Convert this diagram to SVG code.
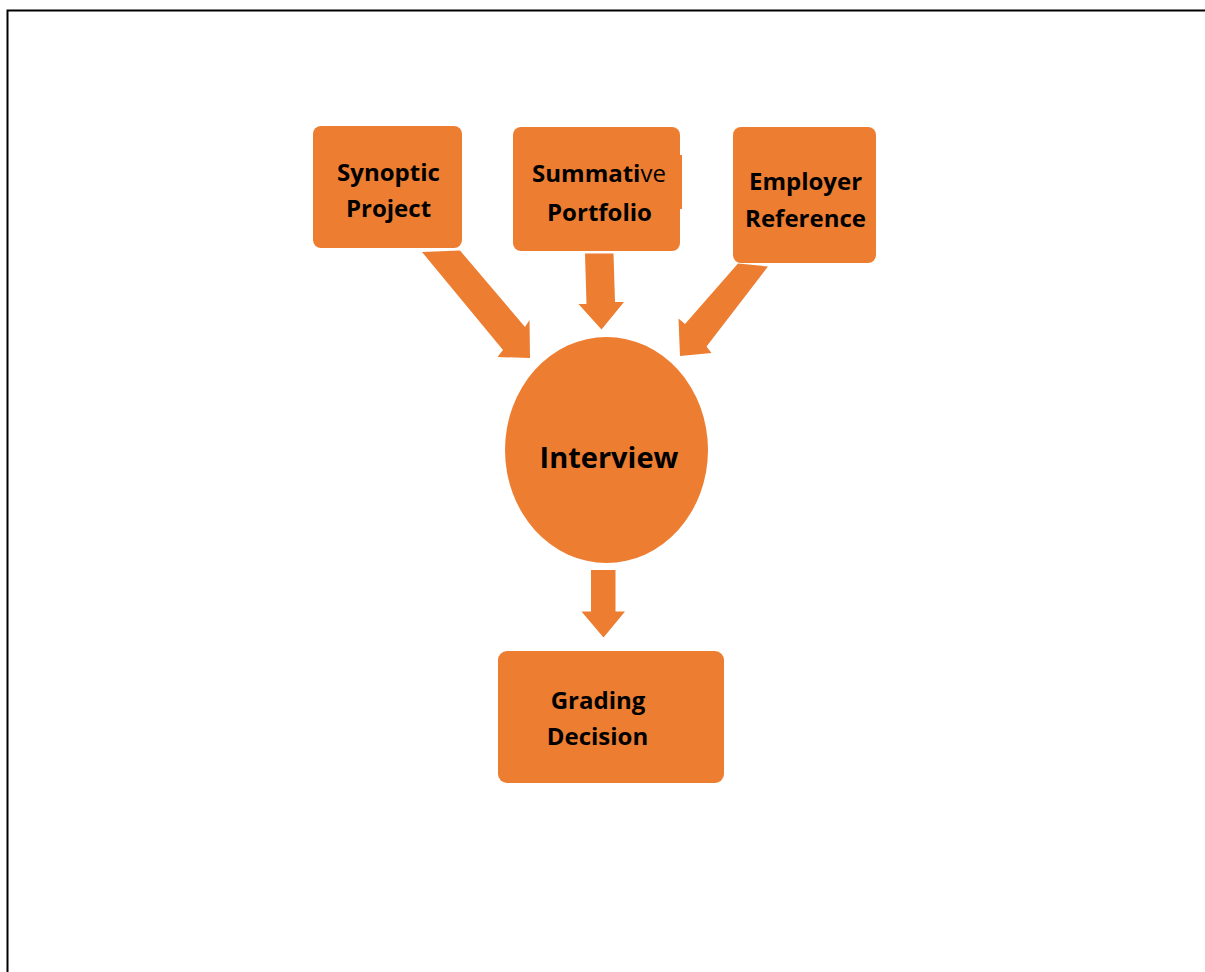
<svg xmlns="http://www.w3.org/2000/svg" width="1205" height="972" viewBox="0 0 1205 972">
  <style>
    .shape { fill: #ED7D31; }
    .label { font-family: "Open Sans", "Liberation Sans", sans-serif; font-weight: bold; font-size: 24px; fill: #000; text-anchor: middle; }
    .big { font-size: 29px; }
    .regular { font-weight: normal; }
  </style>

  <rect width="1205" height="972" fill="#fff"/>

  <!-- page frame -->
  <path d="M7.5 972 V10.5 H1205" fill="none" stroke="#000" stroke-width="2"/>

  <!-- block arrows -->
  <g id="connectors">
    <polygon class="shape" points="422,252 460,250.5 525,327 529.5,320 530,358 497.5,357 503,350"/>
    <polygon class="shape" points="585,253.5 613.5,253.5 615,302 624,302 601.5,329.5 578.5,304 586.5,304"/>
    <polygon class="shape" points="738,263.5 768,266.5 706.5,346.5 711.5,353 680,356 678.5,318.5 685,324"/>
    <polygon class="shape" points="591,570 615.5,570 615.5,611.5 625,611.5 603.5,637.5 581.5,611.5 591,611.5"/>
  </g>

  <g id="synoptic-project">
    <rect class="shape" x="313" y="126" width="149" height="122" rx="8"/>
    <text class="label" x="388.5" y="181">Synoptic</text>
    <text class="label" x="388.5" y="217">Project</text>
  </g>

  <g id="summative-portfolio">
    <rect class="shape" x="513" y="127" width="167" height="124" rx="8"/>
    <rect class="shape" x="680" y="155" width="2" height="54"/>
    <text class="label" x="599" y="182">Summati<tspan class="regular">ve</tspan></text>
    <text class="label" x="599.5" y="221">Portfolio</text>
  </g>

  <g id="employer-reference">
    <rect class="shape" x="733" y="127" width="143" height="136" rx="8"/>
    <text class="label" x="805.5" y="190">Employer</text>
    <text class="label" x="805.5" y="227">Reference</text>
  </g>

  <g id="interview">
    <ellipse class="shape" cx="606.5" cy="450" rx="101.5" ry="113"/>
    <text class="label big" x="609" y="468">Interview</text>
  </g>

  <g id="grading-decision">
    <rect class="shape" x="498" y="651" width="226" height="132" rx="9"/>
    <text class="label" x="598" y="709">Grading</text>
    <text class="label" x="597.5" y="745">Decision</text>
  </g>
</svg>
